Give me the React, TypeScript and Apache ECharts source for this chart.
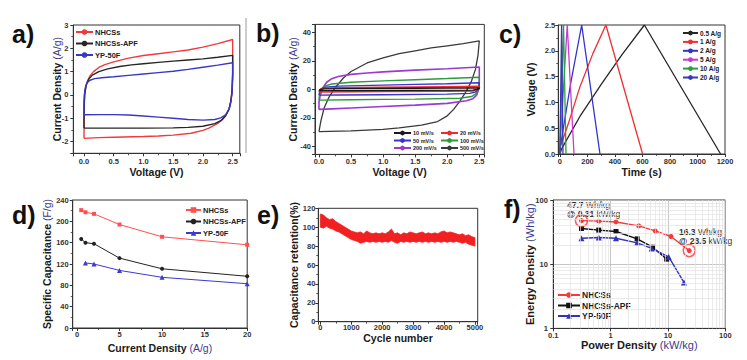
import React, { useEffect, useRef } from "react";
import * as echarts from "echarts";

const FONT = '"Liberation Sans", Arial, Helvetica, sans-serif';

// ---------- (a) CV curves of three materials: [voltage V, current A/g] ----------
const cvA_NHCSs: number[][] = [
  [0, -1.86], [0, -1.2], [0.005, -0.5], [0.01, 0], [0.03, 0.35], [0.06, 0.6], [0.1, 0.82], [0.16, 1.0],
  [0.25, 1.18], [0.35, 1.3], [0.5, 1.42], [0.75, 1.58], [1.0, 1.69], [1.25, 1.77], [1.5, 1.85],
  [1.75, 1.93], [2.0, 2.05], [2.25, 2.2], [2.5, 2.38], [2.5, 1.0], [2.49, 0.14], [2.47, -0.25],
  [2.44, -0.6], [2.4, -0.8], [2.33, -1.05], [2.25, -1.22], [2.1, -1.42], [2.0, -1.52], [1.8, -1.64],
  [1.5, -1.72], [1.25, -1.76], [1.0, -1.78], [0.5, -1.81], [0.25, -1.83], [0, -1.86],
];
const cvA_APF: number[][] = [
  [0, -1.42], [0, -0.9], [0.005, -0.3], [0.015, 0.1], [0.04, 0.45], [0.08, 0.68], [0.14, 0.85],
  [0.25, 1.0], [0.4, 1.12], [0.6, 1.22], [0.8, 1.29], [1.0, 1.34], [1.25, 1.4], [1.5, 1.45],
  [1.75, 1.5], [2.0, 1.55], [2.25, 1.62], [2.5, 1.7], [2.5, 0.9], [2.49, 0.2], [2.47, -0.25],
  [2.44, -0.6], [2.38, -0.9], [2.3, -1.1], [2.2, -1.23], [2.0, -1.34], [1.75, -1.39], [1.5, -1.41],
  [1.0, -1.42], [0.5, -1.42], [0, -1.42],
];
const cvA_YP: number[][] = [
  [0, -0.85], [0, -0.4], [0.005, 0], [0.02, 0.3], [0.05, 0.52], [0.1, 0.63], [0.18, 0.7], [0.3, 0.74],
  [0.5, 0.78], [0.75, 0.84], [1.0, 0.9], [1.25, 0.96], [1.5, 1.02], [1.75, 1.1], [2.0, 1.19],
  [2.25, 1.28], [2.5, 1.38], [2.5, 0.7], [2.49, 0.1], [2.47, -0.3], [2.44, -0.6], [2.38, -0.85],
  [2.3, -0.98], [2.2, -1.05], [2.0, -1.08], [1.75, -1.05], [1.5, -1.0], [1.25, -0.95], [1.0, -0.9],
  [0.75, -0.86], [0.5, -0.84], [0.25, -0.84], [0, -0.85],
];

// ---------- (b) CV at various scan rates ----------
const cv10: number[][] = [
  [0, -0.9], [0.02, 0], [0.08, 0.4], [0.5, 0.6], [1.5, 0.8], [2.5, 1.0], [2.5, 0.5], [2.47, 0],
  [2.4, -0.5], [1.5, -0.7], [0.5, -0.8], [0, -0.9],
];
const cv20: number[][] = [
  [0, -1.8], [0.02, 0], [0.08, 0.8], [0.3, 1.1], [1.0, 1.4], [2.0, 1.8], [2.5, 2.1], [2.5, 1],
  [2.47, 0], [2.4, -1], [2.0, -1.3], [1.0, -1.5], [0, -1.8],
];
const cv50: number[][] = [
  [0, -4], [0.01, -1.5], [0.04, 0.5], [0.1, 1.5], [0.3, 2.3], [1.0, 3], [1.5, 3.5], [2.0, 4],
  [2.5, 4.7], [2.5, 2], [2.48, 0], [2.44, -1.8], [2.35, -2.8], [2.0, -3.3], [1.0, -3.7], [0.3, -3.9], [0, -4],
];
const cv100: number[][] = [
  [0, -7.5], [0.01, -3], [0.04, 0.5], [0.1, 2.5], [0.2, 3.8], [0.5, 5], [1.0, 6], [1.5, 6.8],
  [2.0, 7.6], [2.5, 8.5], [2.5, 4], [2.48, 0], [2.45, -3], [2.38, -5], [2.2, -6.2], [1.5, -6.8],
  [1.0, -7], [0.5, -7.2], [0, -7.5],
];
const cv200: number[][] = [
  [0, -14], [0, -9], [0.02, -4], [0.06, 1], [0.12, 5], [0.2, 7.5], [0.3, 9], [0.5, 10.5], [0.75, 11.5],
  [1.0, 12.3], [1.5, 13.5], [2.0, 14.5], [2.5, 15.7], [2.5, 5], [2.49, 0], [2.46, -4], [2.4, -6.5],
  [2.3, -8], [2.0, -9.8], [1.5, -11], [1.0, -12], [0.5, -13], [0.2, -13.6], [0, -14],
];
const cv500: number[][] = [
  [0, -29.5], [0.03, -22], [0.08, -13], [0.15, -6], [0.25, 1], [0.38, 8], [0.5, 12.5], [0.75, 18.5],
  [1.0, 22], [1.25, 25], [1.5, 27], [1.75, 29], [2.0, 30.5], [2.25, 32], [2.5, 34], [2.48, 24],
  [2.44, 14], [2.38, 6], [2.3, -1], [2.2, -8], [2.1, -14], [2.0, -18.5], [1.85, -22.5], [1.6, -25],
  [1.25, -27], [1.0, -28], [0.5, -29], [0, -29.5],
];

// ---------- (c) galvanostatic charge/discharge: [time s, voltage V] ----------
const gcd05: number[][] = [[0, 0], [12, 0.1], [150, 0.75], [300, 1.35], [450, 1.92], [614, 2.5], [1168, 0]];
const gcd1: number[][] = [[0, 0], [4, 0.15], [60, 0.58], [145, 1.3], [240, 1.95], [334, 2.5], [601, 0]];
const gcd2: number[][] = [[0, 0], [3, 0.15], [80, 1.4], [158, 2.5], [291, 0]];
const gcd5: number[][] = [[0, 0], [2, 0.2], [53, 2.5], [102, 0]];
const gcd10: number[][] = [[0, 0], [1, 0.2], [26, 2.5], [44, 0]];
const gcd20: number[][] = [[0, 0], [1, 0.3], [12, 2.5], [22, 0]];

// ---------- (d) rate capability ----------
const dCurrent = [0.5, 1, 2, 5, 10, 20];
const dNHCSs = [221, 217, 214, 194, 171, 156];
const dAPF = [167, 160, 158, 131, 111, 97];
const dCurrentYP = [1, 2, 5, 10, 20];
const dYP = [122, 120, 108, 95, 83];

// ---------- (e) cycling stability: upper / lower edge of the noisy band, every 100 cycles ----------
const cycleStep = 100;
const retentionHigh = [
  114, 113, 110, 108, 109, 106, 104, 102, 100, 98, 96, 95, 94, 95, 93, 96, 94, 93, 94, 93,
  94, 93, 95, 98, 93, 94, 92, 94, 93, 95, 94, 93, 94, 95, 93, 94, 93, 94, 93, 95,
  96, 94, 95, 94, 93, 92, 93, 91, 92, 90, 89,
];
const retentionLow = [
  100, 99, 101, 99, 98, 96, 95, 93, 91, 89, 87, 86, 85, 83, 84, 85, 84, 85, 84, 85,
  84, 85, 84, 86, 84, 83, 85, 84, 85, 84, 85, 84, 85, 84, 85, 84, 85, 84, 85, 84,
  85, 84, 85, 84, 85, 84, 83, 84, 82, 81, 80,
];

// ---------- (f) Ragone plot ----------
const fPowerNHCSs = [0.31, 0.62, 1.24, 3.1, 6.0, 11.3, 23.5];
const fEnergyNHCSs = [47.7, 46.8, 45.5, 39.5, 33, 27, 16.3];
const fPowerAPF = [0.31, 0.62, 1.24, 2.9, 5.4, 9.5];
const fEnergyAPF = [36, 34, 32.3, 24.8, 18.4, 12];
const fPowerYP = [0.31, 0.62, 1.24, 2.9, 5.2, 10.3, 19];
const fEnergyYP = [25.4, 26, 25.4, 21.5, 17.6, 13, 5.2];

const zip = (a: number[], b: number[]) => a.map((v, i) => [v, b[i]]);

const nameStyle = (size = 11) => ({
  fontFamily: FONT,
  fontSize: size,
  fontWeight: "bold",
  color: "#1a1a1a",
  rich: {
    b: { fontFamily: FONT, fontSize: size, fontWeight: "bold", color: "#1a1a1a" },
    u: { fontFamily: FONT, fontSize: size, fontWeight: "normal", color: "#3a3a8c" },
  },
});

type AxOpt = {
  gi: number; min: number; max: number; step?: number; name: string; gap: number; size?: number;
  fmt?: (v: number) => string; hideMin?: boolean; hideMax?: boolean; minor?: number; log?: boolean;
  split?: boolean; lm?: number;
};
function axis(o: AxOpt) {
  const a: any = {
    gridIndex: o.gi,
    min: o.min,
    max: o.max,
    name: o.name,
    nameLocation: "middle",
    nameGap: o.gap,
    nameMoveOverlap: false,
    nameTextStyle: nameStyle(o.size ?? 10.5),
    axisLine: { show: true, onZero: false, lineStyle: { color: "#333", width: 1 } },
    axisTick: { show: true, inside: false, length: 3, lineStyle: { color: "#333", width: 1 } },
    axisLabel: {
      fontFamily: FONT, fontSize: 7.5, fontWeight: "bold", color: "#333", margin: o.lm ?? 4,
      showMinLabel: !o.hideMin, showMaxLabel: !o.hideMax, hideOverlap: false,
      formatter: o.fmt ?? ((v: number) => String(v)),
    },
    splitLine: o.split
      ? { show: true, lineStyle: { color: "#b8b8b8", width: 0.8 } }
      : { show: false },
  };
  if (o.log) {
    a.type = "log";
    a.logBase = 10;
  } else {
    a.type = "value";
    a.minInterval = o.step;
    a.maxInterval = o.step;
  }
  if (o.minor) {
    a.minorTick = { show: true, splitNumber: o.minor, length: 2, lineStyle: { color: "#333", width: 0.8 } };
  }
  return a;
}

const f1 = (v: number) => v.toFixed(1);

function lineSeries(name: string, gi: number, data: number[][], color: string, width = 1.3, extra: any = {}) {
  return {
    type: "line", name, xAxisIndex: gi, yAxisIndex: gi, data, color,
    symbol: "none", showSymbol: false, smooth: false, z: 3,
    lineStyle: { color, width }, ...extra,
  };
}

function legend(left: number, top: number, names: string[], size: number, itemWidth: number, gap: number, itemHeight = 7) {
  return {
    show: true, orient: "vertical", left, top, padding: 0, itemGap: gap, itemWidth, itemHeight,
    selectedMode: false, data: names,
    formatter: (n: string) => n.split("#")[0],
    textStyle: { fontFamily: FONT, fontSize: size, fontWeight: "bold", color: "#222", padding: [0, 0, 0, -3] },
  };
}

export default function App() {
  const ref = useRef<HTMLDivElement>(null);
  useEffect(() => {
    if (!ref.current) return;
    const chart = echarts.init(ref.current, null, { renderer: "svg" });

    const grids = [
      { left: 73.3, top: 25, width: 166.5, height: 128.3 }, // a
      { left: 315, top: 24.4, width: 169.3, height: 130 }, // b
      { left: 558.3, top: 25, width: 166.7, height: 129 }, // c
      { left: 72.7, top: 200, width: 174.5, height: 128 }, // d
      { left: 318.3, top: 208.3, width: 159.4, height: 113.4 }, // e
      { left: 553.3, top: 200, width: 172, height: 128.4 }, // f
    ].map((g) => ({ ...g, show: true, borderColor: "#333", borderWidth: 1, backgroundColor: "transparent", containLabel: false, outerBoundsMode: "none" }));

    const xAxes = [
      axis({ gi: 0, min: -0.18, max: 2.62, step: 0.5, name: "Voltage (V)", gap: 12.7, fmt: f1, hideMin: true, hideMax: true, minor: 2, lm: 4.4 }),
      axis({ gi: 1, min: -0.062, max: 2.578, step: 0.5, name: "Voltage (V)", gap: 11.8, fmt: f1, hideMin: true, hideMax: true, minor: 2, lm: 2.8 }),
      axis({ gi: 2, min: -12, max: 1200, step: 200, name: "Time (s)", gap: 12, hideMin: true, minor: 2, lm: 3.5 }),
      axis({ gi: 3, min: -0.5, max: 20, step: 5, name: "{b|Current Density }{u|(A/g)}", gap: 14.5, hideMin: true, minor: 2, lm: 2 }),
      axis({ gi: 4, min: -65, max: 5090, step: 1000, name: "Cycle number", gap: 11, hideMin: true, hideMax: true, minor: 2, lm: 2 }),
      axis({ gi: 5, min: 0.1, max: 100, name: "{b|Power Density }{u|(kW/kg)}", gap: 11.5, size: 11, log: true, split: true, lm: 3.5 }),
    ];
    const yAxes = [
      axis({ gi: 0, min: -2.5, max: 3, step: 1, name: "{b|Current Density }{u|(A/g)}", gap: 11, hideMin: true, minor: 2, lm: 5 }),
      axis({ gi: 1, min: -45.5, max: 45.5, step: 20, name: "{b|Current Density }{u|(A/g)}", gap: 17, hideMin: true, hideMax: true, minor: 2, lm: 4 }),
      axis({ gi: 2, min: 0, max: 2.5, step: 0.5, name: "Voltage (V)", gap: 22, fmt: f1, minor: 2, lm: 3 }),
      axis({ gi: 3, min: 0, max: 240, step: 40, name: "{b|Specific Capacitance }{u|(F/g)}", gap: 20, minor: 2, lm: 4 }),
      axis({ gi: 4, min: 0, max: 120, step: 20, name: "Capacitance retention(%)", gap: 19, minor: 2, lm: 3 }),
      axis({ gi: 5, min: 1, max: 100, name: "{b|Energy Density }{u|(Wh/kg)}", gap: 17.5, size: 11, log: true, split: true, lm: 5.5 }),
    ];

    // (f) minor log grid lines
    const minorX: any[] = [];
    [0.1, 1, 10].forEach((d) => { for (let k = 2; k <= 9; k++) minorX.push({ xAxis: +(d * k).toPrecision(3) }); });
    const minorY: any[] = [];
    [1, 10].forEach((d) => { for (let k = 2; k <= 9; k++) minorY.push({ yAxis: d * k }); });

    const fNH = zip(fPowerNHCSs, fEnergyNHCSs);

    const series: any[] = [
      // a
      lineSeries("NHCSs#a", 0, cvA_NHCSs, "#ef3b3b", 1.4),
      lineSeries("NHCSs-APF#a", 0, cvA_APF, "#262626", 1.4),
      lineSeries("YP-50F#a", 0, cvA_YP, "#3838c8", 1.4),
      // b
      lineSeries("500 mV/s", 1, cv500, "#3a3a3a", 1.3),
      lineSeries("200 mV/s", 1, cv200, "#9a3ad0", 1.6),
      lineSeries("100 mV/s", 1, cv100, "#2e9a3e", 1.4),
      lineSeries("50 mV/s", 1, cv50, "#3535d0", 1.4),
      lineSeries("20 mV/s", 1, cv20, "#ee2a2a", 1.6),
      lineSeries("10 mV/s", 1, cv10, "#1a1a1a", 1.3),
      // c
      lineSeries("0.5 A/g", 2, gcd05, "#262626", 1.3),
      lineSeries("1 A/g", 2, gcd1, "#ee3030", 1.3),
      lineSeries("2 A/g", 2, gcd2, "#3333cc", 1.3),
      lineSeries("5 A/g", 2, gcd5, "#c43cd0", 1.3),
      lineSeries("10 A/g", 2, gcd10, "#2aa040", 1.3),
      lineSeries("20 A/g", 2, gcd20, "#3a3ab4", 1.3),
      // d
      lineSeries("NHCSs#d", 3, zip(dCurrent, dNHCSs), "#ff4f4f", 1, { symbol: "rect", symbolSize: 4, showSymbol: true }),
      lineSeries("NHCSs-APF#d", 3, zip(dCurrent, dAPF), "#222", 1, { symbol: "circle", symbolSize: 4, showSymbol: true }),
      lineSeries("YP-50F#d", 3, zip(dCurrentYP, dYP), "#3a3ad0", 1, { symbol: "triangle", symbolSize: 5, showSymbol: true }),
      // e : band between the upper and lower edges, drawn through the axis scales
      {
        type: "custom", name: "retention", coordinateSystem: "cartesian2d", xAxisIndex: 4, yAxisIndex: 4,
        data: [[0, retentionHigh[0]]], silent: true, z: 3,
        renderItem: (_p: any, api: any) => {
          const top = retentionHigh.map((v, i) => api.coord([i * cycleStep, v]));
          const bottom = retentionLow.map((v, i) => api.coord([i * cycleStep, v])).reverse();
          return {
            type: "polygon",
            shape: { points: [...top, ...bottom] },
            style: { fill: "#f22121", stroke: "#f22121", lineWidth: 0.8, lineJoin: "miter" },
          };
        },
      },
      // f
      {
        type: "line", name: "grid-minor", xAxisIndex: 5, yAxisIndex: 5, data: [], z: 1, silent: true,
        markLine: {
          silent: true, symbol: ["none", "none"], label: { show: false }, animation: false,
          lineStyle: { type: "solid", color: "#e2e2e2", width: 0.7 },
          data: [...minorX, ...minorY],
        },
      },
      lineSeries("NHCSs#f", 5, fNH, "#f03c3c", 1.4, { symbol: "circle", symbolSize: 5, showSymbol: true }),
      lineSeries("NHCSs-APF#f", 5, zip(fPowerAPF, fEnergyAPF), "#111", 1.4, { symbol: "rect", symbolSize: 5, showSymbol: true }),
      lineSeries("YP-50F#f", 5, zip(fPowerYP, fEnergyYP), "#3434b8", 1.4, { symbol: "triangle", symbolSize: 6, showSymbol: true }),
      {
        type: "scatter", name: "highlight", xAxisIndex: 5, yAxisIndex: 5, z: 4, silent: true,
        data: [fNH[0], fNH[fNH.length - 1]], symbol: "circle", symbolSize: 12,
        itemStyle: { color: "rgba(255,255,255,0)", borderColor: "#f03c3c", borderWidth: 1.5 },
      },
    ];

    const legends = [
      legend(75, 28, ["NHCSs#a", "NHCSs-APF#a", "YP-50F#a"], 7.5, 17, 3.5),
      legend(393, 130, ["10 mV/s", "50 mV/s", "200 mV/s"], 5.5, 17, 1.5, 6),
      legend(440, 130, ["20 mV/s", "100 mV/s", "500 mV/s"], 5.5, 17, 1.5, 6),
      legend(682, 29.5, ["0.5 A/g", "1 A/g", "2 A/g", "5 A/g", "10 A/g", "20 A/g"], 6.5, 15, 1.9, 6),
      legend(185, 206, ["NHCSs#d", "NHCSs-APF#d", "YP-50F#d"], 7.5, 15, 3.5),
      legend(557, 290.5, ["NHCSs#f", "NHCSs-APF#f", "YP-50F#f"], 8.5, 22, 1.5),
    ];

    const panelLabels = [
      { t: "a)", x: 12, y: 34 },
      { t: "b)", x: 256, y: 33 },
      { t: "c)", x: 499, y: 34 },
      { t: "d)", x: 12, y: 215 },
      { t: "e)", x: 257, y: 215 },
      { t: "f)", x: 504, y: 209 },
    ];

    const annStyle = {
      fontFamily: FONT, fontSize: 8.5, fill: "#333",
      rich: {
        b: { fontFamily: FONT, fontSize: 8.5, fontWeight: "bold", color: "#333" },
        n: { fontFamily: FONT, fontSize: 8.5, fontWeight: "normal", color: "#333" },
      },
    };
    const annotations = [
      { t: `{b|${fEnergyNHCSs[0]}} {n|Wh/kg}`, x: 567, y: 205 },
      { t: `{b|@ ${fPowerNHCSs[0]}} {n|kW/kg}`, x: 567, y: 214 },
      { t: `{b|${fEnergyNHCSs[fEnergyNHCSs.length - 1]}} {n|Wh/kg}`, x: 679, y: 232 },
      { t: `{b|@ ${fPowerNHCSs[fPowerNHCSs.length - 1]}} {n|kW/kg}`, x: 679, y: 241 },
    ];

    const graphic: any[] = [
      ...panelLabels.map((p) => ({
        type: "text", x: p.x, y: p.y, silent: true,
        style: { text: p.t, fontFamily: FONT, fontSize: 25, fontWeight: "bold", fill: "#111", verticalAlign: "middle" },
      })),
      ...annotations.map((a) => ({
        type: "text", x: a.x, y: a.y, silent: true,
        style: { ...annStyle, text: a.t, verticalAlign: "middle" },
      })),
      { type: "line", silent: true, shape: { x1: 246, y1: 18, x2: 246, y2: 153 }, style: { stroke: "#9a9a9a", lineWidth: 1 } },
    ];

    chart.setOption({
      animation: false,
      backgroundColor: "#ffffff",
      textStyle: { fontFamily: FONT },
      grid: grids,
      xAxis: xAxes,
      yAxis: yAxes,
      legend: legends,
      series,
      graphic,
    });
    return () => chart.dispose();
  }, []);
  return <div ref={ref} style={{ position: "fixed", left: 0, top: 0, width: 747, height: 360, background: "#fff" }} />;
}
